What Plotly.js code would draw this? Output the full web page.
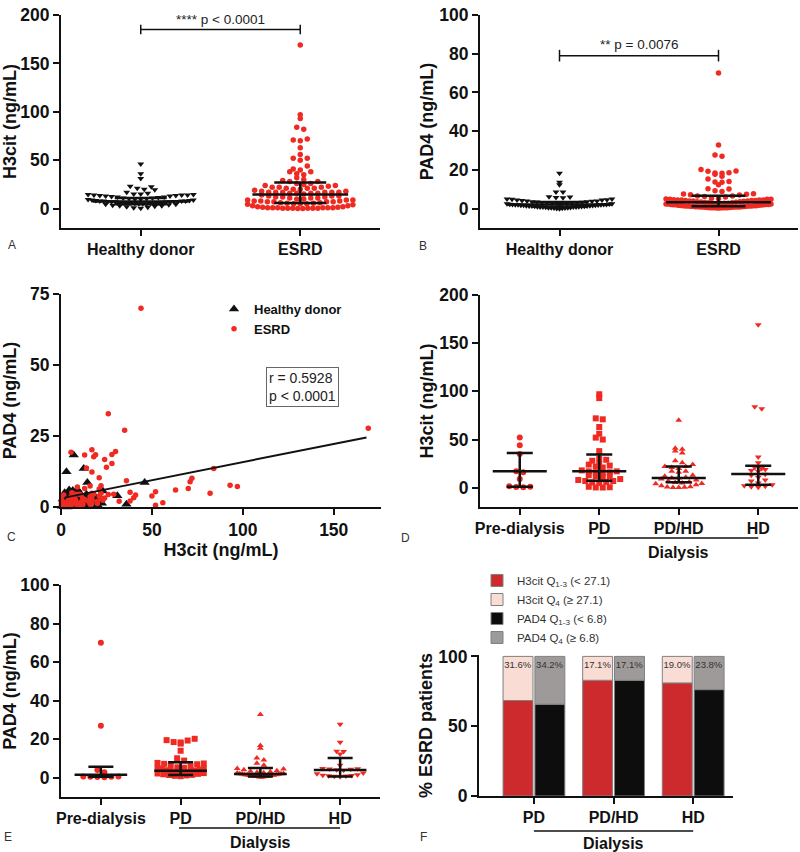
<!DOCTYPE html>
<html>
<head>
<meta charset="utf-8">
<script src="https://cdn.plot.ly/plotly-3.0.1.min.js"></script>
<style>
  body { margin: 0; background: #fff; }
  #fig { width: 800px; height: 852px; }
</style>
</head>
<body>
<div id="fig"></div>
<script>
// --- values ---

// healthy donors: paired H3cit / PAD4 (ng/mL)
const donorH3 = [46, 36, 31, 23, 22.5, 21, 20, 19.5, 17, 16, 15, 15, 14.5, 14.5, 14, 14, 14, 13.5, 13.5, 13, 13,
  12.5, 12, 12, 11.5, 11, 11, 10.5, 10.5, 10, 10, 9.5, 9, 9, 8.5, 8.5, 8, 8, 8, 7.8, 7.5, 7.5, 7.5, 7, 7, 7,
  6.8, 6.5, 6.5, 6.2, 6, 6, 6, 5.8, 5.5, 5.5, 5, 5, 5, 4.5, 4.5, 4, 3.5, 3, 3, 2.5, 2, 1.5, 1, 0.5];
const donorPad4 = [8.6, 1.0, 4.0, 5.6, 1.3, 2.2, 0.8, 3.1, 1.6, 2.5, 0.5, 3.6, 8.6, 2.0, 1.2, 4.5, 0.3, 2.8, 1.9, 0.9,
  3.3, 13.6, 2.4, 1.1, 3.8, 0.6, 2.1, 4.8, 1.5, 2.7, 0.2, 3.0, 1.8, 6.2, 2.3, 0.7, 3.5, 1.4, 5.0, 2.0,
  0.4, 2.9, 1.7, 18.3, 3.2, 1.0, 2.6, 0.1, 5.8, 2.2, 1.2, 3.9, 0.5, 2.0, 4.2, 1.5, 4.4, 0.8, 2.5, 6.0,
  1.8, 3.4, 0.0, 12.4, 4.6, 1.3, 5.0, 0.9, 2.8, 0.3];

// ESRD patients by treatment group: paired H3cit / PAD4
const preH3 = [52, 44, 35, 17, 16, 9, 1.5, 1, 0.8, 0.5];
const prePad4 = [0.6, 70, 27, 4.0, 2.8, 0.5, 0.4, 0.7, 0.5, 0.3];
const pdH3 = [97, 93, 72, 71, 63, 56, 52, 50, 38, 30, 29, 28, 25, 24, 23, 22, 21, 18, 17, 17,
  16, 16, 15, 13, 12, 12, 11, 9, 8, 7, 7, 6, 5.5, 5, 1, 0.5, 0.3, 0.2];
const pdPad4 = [7.2, 7.7, 10.1, 8.9, 6.0, 1.5, 5.4, 3.9, 5.2, 19.5, 4.5, 18.5, 14.0, 3.2, 2.4, 4.8, 6.3, 17.7, 20.2, 2.8,
  7.4, 3.6, 2.0, 18.3, 3.0, 1.2, 4.2, 7.0, 2.6, 3.4, 1.8, 5.0, 19.3, 2.2, 1.0, 3.8, 0.8, 1.4];
const pdhdH3 = [70, 41, 40, 38, 36, 28, 26, 24, 22, 22, 21, 20, 17, 17, 16, 13, 12, 11, 10, 10,
  9, 8, 7, 6, 5.5, 5, 4.5, 4, 3, 2, 1, 0.8, 0.5, 0.3, 0.2];
const pdhdPad4 = [6.5, 4.2, 3.3, 2.1, 9.2, 15.3, 32.8, 16.7, 7.5, 3.1, 10.3, 2.0, 4.8, 1.5, 1.0, 2.6, 0.8, 1.8, 4.5, 1.2,
  0.6, 2.2, 1.6, 0.9, 3.6, 1.3, 0.5, 2.8, 1.1, 0.7, 1.9, 0.4, 1.4, 0.3, 2.4];
const hdH3 = [169, 84, 82, 32, 26, 21, 20, 19, 18, 17, 14, 13, 11, 8, 7, 5, 3, 2, 1.5, 1, 0.5];
const hdPad4 = [27.7, 13.6, 4.8, 2.0, 4.4, 3.9, 1.2, 18.4, 4.6, 12.3, 13.7, 6.5, 0.8, 4.5, 2.4, 1.0, 0.5, 1.5, 4.2, 0.9, 1.3];

const esrdH3 = preH3.concat(pdH3, pdhdH3, hdH3);
const esrdPad4 = prePad4.concat(pdPad4, pdhdPad4, hdPad4);

// median and interquartile range as drawn
const pairNames = ['Healthy donor', 'ESRD'];
const medA = [7.3, 14.5], q1A = [4.5, 5.9], q3A = [11, 26.9];
const medB = [2.1, 3.3], q1B = [1.0, 1.2], q3B = [3.4, 6.7];
const groupNames = ['Pre-dialysis', 'PD', 'PD/HD', 'HD'];
const medD = [17, 17, 10.1, 14.2], q1D = [1, 7.3, 5.6, 3.1], q3D = [36.1, 34.4, 21.9, 22.9];
const medE = [1.6, 3.6, 1.9, 4.0], q1E = [0.5, 1.4, 0.7, 0.7], q3E = [5.7, 8.0, 5.0, 10.3];

// regression line end points (panel C)
const fitX = [2, 168];
const fitY = [3.3, 24.5];

// panel F: % of ESRD patients per quartile
const dialysisNames = ['PD', 'PD/HD', 'HD'];
const h3Low = [68.4, 82.9, 81.0];
const h3High = [31.6, 17.1, 19.0];
const padLow = [65.8, 82.9, 76.2];
const padHigh = [34.2, 17.1, 23.8];

// --- helpers ---
const RED = '#ef2a22';
const INK = '#111';
const FONT = 'Liberation Sans, Arial, sans-serif';

// simple beeswarm: points in the same value band are spread sideways
function swarm(vals, center, rowH, step, half) {
  const rows = {};
  vals.forEach((v, i) => {
    const k = Math.floor(v / rowH);
    (rows[k] = rows[k] || []).push(i);
  });
  const xs = [];
  Object.values(rows).forEach(idx => {
    idx.sort((a, b) => vals[a] - vals[b]);
    const n = idx.length;
    const s = n > 1 ? Math.min(step, 2 * half / (n - 1)) : 0;
    idx.forEach((i, j) => {
      const k = Math.ceil(j / 2) * (j % 2 ? -1 : 1);
      xs[i] = center + (k + (n % 2 ? 0 : 0.5)) * s;
    });
  });
  return xs;
}

function dots(vals, center, ax, sw, symbol, color, size) {
  return {
    x: swarm(vals, center, sw.rowH, sw.step, sw.half), y: vals,
    xaxis: ax[0], yaxis: ax[1], type: 'scatter', mode: 'markers',
    marker: { symbol: symbol, color: color, size: size },
    showlegend: false, hoverinfo: 'y', cliponaxis: false
  };
}

function medianBars(ax, med, q1, q3, half, cap) {
  return {
    x: med.map((m, i) => i), y: med,
    xaxis: ax[0], yaxis: ax[1], type: 'scatter', mode: 'markers',
    marker: { size: 1, color: 'rgba(0,0,0,0)' },
    error_y: { type: 'data', symmetric: false,
      array: q3.map((q, i) => q - med[i]), arrayminus: med.map((m, i) => m - q1[i]),
      width: cap, thickness: 2.5, color: INK },
    error_x: { type: 'constant', value: half, width: 0, thickness: 2.5, color: INK },
    showlegend: false, hoverinfo: 'skip', cliponaxis: false
  };
}

const swA = { rowH: 5, step: 0.044, half: 0.33 };
const swB = { rowH: 2.6, step: 0.044, half: 0.33 };
const swD = { rowH: 5, step: 0.088, half: 0.29 };
const swE = { rowH: 2.6, step: 0.088, half: 0.29 };

const traces = [];

// A
traces.push(dots(donorH3, 0, ['x', 'y'], swA, 'triangle-down', INK, 6));
traces.push(dots(esrdH3, 1, ['x', 'y'], swA, 'circle', RED, 5.5));
traces.push(medianBars(['x', 'y'], medA, q1A, q3A, 0.3, 26));

// B
traces.push(dots(donorPad4, 0, ['x2', 'y2'], swB, 'triangle-down', INK, 6));
traces.push(dots(esrdPad4, 1, ['x2', 'y2'], swB, 'circle', RED, 5.5));
traces.push(medianBars(['x2', 'y2'], medB, q1B, q3B, 0.33, 27));

// C
traces.push({
  x: donorH3, y: donorPad4, xaxis: 'x3', yaxis: 'y3', type: 'scatter', mode: 'markers',
  name: 'Healthy donor', legend: 'legend',
  marker: { symbol: 'triangle-up', color: INK, size: 9 }, cliponaxis: false
});
traces.push({
  x: esrdH3, y: esrdPad4, xaxis: 'x3', yaxis: 'y3', type: 'scatter', mode: 'markers',
  name: 'ESRD', legend: 'legend',
  marker: { symbol: 'circle', color: RED, size: 5.5 }, cliponaxis: false
});
traces.push({
  x: fitX, y: fitY, xaxis: 'x3', yaxis: 'y3', type: 'scatter', mode: 'lines',
  line: { color: INK, width: 2 }, showlegend: false, hoverinfo: 'skip'
});

// D and E
const groupH3 = [preH3, pdH3, pdhdH3, hdH3];
const groupPad4 = [prePad4, pdPad4, pdhdPad4, hdPad4];
const groupSymbols = ['circle', 'square', 'triangle-up', 'triangle-down'];
groupH3.forEach((g, i) => traces.push(dots(g, i, ['x4', 'y4'], swD, groupSymbols[i], RED, 6)));
traces.push(medianBars(['x4', 'y4'], medD, q1D, q3D, 0.34, 13));
groupPad4.forEach((g, i) => traces.push(dots(g, i, ['x5', 'y5'], swE, groupSymbols[i], RED, 6)));
traces.push(medianBars(['x5', 'y5'], medE, q1E, q3E, 0.33, 12.5));

// F
function bar(name, y, base, color, group, withText) {
  const t = {
    x: dialysisNames, y: y, type: 'bar', xaxis: 'x6', yaxis: 'y6',
    name: name, legend: 'legend2', offsetgroup: group,
    marker: { color: color, line: { color: '#808080', width: 1 } },
    hoverinfo: 'y'
  };
  if (base) t.base = base;
  if (withText) {
    t.text = y.map(v => v.toFixed(1) + '%');
    t.textposition = 'inside';
    t.insidetextanchor = 'end';
    t.constraintext = 'none';
    t.textangle = 0;
    t.textfont = { size: 9.5, color: '#333', family: FONT };
  }
  return t;
}
traces.push(bar('H3cit Q<sub>1-3</sub> (&lt; 27.1)', h3Low, null, '#cc2a2c', 'h3', false));
traces.push(bar('H3cit Q<sub>4</sub> (≥ 27.1)', h3High, h3Low, '#f9ddd4', 'h3', true));
traces.push(bar('PAD4 Q<sub>1-3</sub> (&lt; 6.8)', padLow, null, '#0d0d0d', 'pad', false));
traces.push(bar('PAD4 Q<sub>4</sub> (≥ 6.8)', padHigh, padLow, '#9e9a9a', 'pad', true));

// --- layout ---
const axisBase = {
  showline: true, linewidth: 2, linecolor: INK,
  ticks: 'outside', ticklen: 6, tickwidth: 2, tickcolor: INK,
  showgrid: false, zeroline: false,
  tickfont: { size: 16, weight: 'bold', color: INK, family: FONT }
};
const yTickFont = { size: 17.5, weight: 'bold', color: INK, family: FONT };
const titleFont = { size: 18, weight: 'bold', color: INK, family: FONT };

function ax(extra) { return Object.assign({}, axisBase, extra); }
function yax(extra) { return Object.assign({}, axisBase, { tickfont: yTickFont }, extra); }

const W = 800, H = 852;
const px = v => v / W;
const py = v => 1 - v / H;

function label(xref, x, y, text, font) {
  return { xref: xref, yref: 'paper', x: x, y: y, xanchor: 'center', yanchor: 'middle',
    showarrow: false, text: text, font: font };
}
const letterFont = { size: 12, color: '#333' };
const dialysisFont = { size: 16, weight: 'bold', color: INK };

const layout = {
  width: W, height: H,
  margin: { l: 0, r: 0, t: 0, b: 0 },
  paper_bgcolor: '#fff', plot_bgcolor: '#fff',
  font: { family: FONT, color: INK },
  barmode: 'group', bargap: 0.2, bargroupgap: 0.06,
  showlegend: true,

  xaxis: ax({ domain: [px(61), px(380)], anchor: 'y', range: [-0.5, 1.5], tickvals: [0, 1], ticktext: pairNames }),
  yaxis: yax({ domain: [py(228), py(15)], anchor: 'x', range: [-20, 200], tickvals: [0, 50, 100, 150, 200],
    title: { text: 'H3cit (ng/mL)', font: titleFont } }),

  xaxis2: ax({ domain: [px(480), px(798)], anchor: 'y2', range: [-0.5, 1.5], tickvals: [0, 1], ticktext: pairNames }),
  yaxis2: yax({ domain: [py(228), py(15)], anchor: 'x2', range: [-10, 100], tickvals: [0, 20, 40, 60, 80, 100],
    title: { text: 'PAD4 (ng/mL)', font: titleFont } }),

  xaxis3: ax({ domain: [px(61), px(381)], anchor: 'y3', range: [0, 176], tickvals: [0, 50, 100, 150],
    tickfont: yTickFont, title: { text: 'H3cit (ng/mL)', font: titleFont, standoff: 4 } }),
  yaxis3: yax({ domain: [py(507), py(294)], anchor: 'x3', range: [0, 75], tickvals: [0, 25, 50, 75],
    title: { text: 'PAD4 (ng/mL)', font: titleFont } }),

  xaxis4: ax({ domain: [px(480), px(798)], anchor: 'y4', range: [-0.5, 3.5], tickvals: [0, 1, 2, 3], ticktext: groupNames }),
  yaxis4: yax({ domain: [py(507), py(295)], anchor: 'x4', range: [-20, 200], tickvals: [0, 50, 100, 150, 200],
    title: { text: 'H3cit (ng/mL)', font: titleFont } }),

  xaxis5: ax({ domain: [px(61), px(380)], anchor: 'y5', range: [-0.5, 3.5], tickvals: [0, 1, 2, 3], ticktext: groupNames }),
  yaxis5: yax({ domain: [py(797), py(585)], anchor: 'x5', range: [-10, 100], tickvals: [0, 20, 40, 60, 80, 100],
    title: { text: 'PAD4 (ng/mL)', font: titleFont } }),

  xaxis6: ax({ domain: [px(479), px(733)], anchor: 'y6', type: 'category', range: [-0.69, 2.5] }),
  yaxis6: yax({ domain: [py(796), py(655)], anchor: 'x6', range: [0, 101], tickvals: [0, 50, 100],
    title: { text: '% ESRD patients', font: titleFont } }),

  legend: {
    x: px(214), y: py(294), xanchor: 'left', yanchor: 'top',
    bgcolor: 'rgba(0,0,0,0)', itemwidth: 30,
    font: { size: 13, weight: 'bold', color: INK, family: FONT }
  },
  legend2: {
    x: px(477), y: py(566), xanchor: 'left', yanchor: 'top',
    bgcolor: 'rgba(0,0,0,0)', itemwidth: 30,
    font: { size: 11.5, color: '#333', family: FONT }
  },

  shapes: [
    // significance brackets
    { type: 'line', xref: 'x', yref: 'y', x0: 0, x1: 1, y0: 185, y1: 185, line: { color: INK, width: 1.5 } },
    { type: 'line', xref: 'x', yref: 'y', x0: 0, x1: 0, y0: 180, y1: 190, line: { color: INK, width: 1.5 } },
    { type: 'line', xref: 'x', yref: 'y', x0: 1, x1: 1, y0: 180, y1: 190, line: { color: INK, width: 1.5 } },
    { type: 'line', xref: 'x2', yref: 'y2', x0: 0, x1: 1, y0: 79, y1: 79, line: { color: INK, width: 1.5 } },
    { type: 'line', xref: 'x2', yref: 'y2', x0: 0, x1: 0, y0: 76, y1: 82, line: { color: INK, width: 1.5 } },
    { type: 'line', xref: 'x2', yref: 'y2', x0: 1, x1: 1, y0: 76, y1: 82, line: { color: INK, width: 1.5 } },
    // "Dialysis" underlines
    { type: 'line', xref: 'x4', yref: 'paper', x0: 0.98, x1: 3, y0: py(538), y1: py(538), line: { color: INK, width: 1.5 } },
    { type: 'line', xref: 'x5', yref: 'paper', x0: 0.98, x1: 3, y0: py(828), y1: py(828), line: { color: INK, width: 1.5 } },
    { type: 'line', xref: 'x6', yref: 'paper', x0: 0, x1: 2, y0: py(831), y1: py(831), line: { color: INK, width: 1.5 } }
  ],

  annotations: [
    { xref: 'x', yref: 'y', x: 0.5, y: 186, xanchor: 'center', yanchor: 'bottom', showarrow: false,
      text: '**** p &lt; 0.0001', font: { size: 13.5, color: '#222' } },
    { xref: 'x2', yref: 'y2', x: 0.5, y: 80, xanchor: 'center', yanchor: 'bottom', showarrow: false,
      text: '** p = 0.0076', font: { size: 13.5, color: '#222' } },
    { xref: 'x3', yref: 'y3', x: 133, y: 42.3, xanchor: 'center', yanchor: 'middle', showarrow: false, align: 'left',
      text: 'r = 0.5928<br>p &lt; 0.0001', font: { size: 14, color: '#222' },
      bordercolor: '#666', borderwidth: 1, borderpad: 2, bgcolor: '#fff' },
    label('x4', 2, py(552), 'Dialysis', dialysisFont),
    label('x5', 2, py(842), 'Dialysis', dialysisFont),
    label('x6', 1, py(843), 'Dialysis', dialysisFont),
    // panel letters
    label('paper', px(12), py(245), 'A', letterFont),
    label('paper', px(423), py(246), 'B', letterFont),
    label('paper', px(11), py(537), 'C', letterFont),
    label('paper', px(406), py(538), 'D', letterFont),
    label('paper', px(8), py(837), 'E', letterFont),
    label('paper', px(423), py(837), 'F', letterFont)
  ]
};

Plotly.newPlot('fig', traces, layout, { displayModeBar: false, staticPlot: true });
</script>
</body>
</html>
